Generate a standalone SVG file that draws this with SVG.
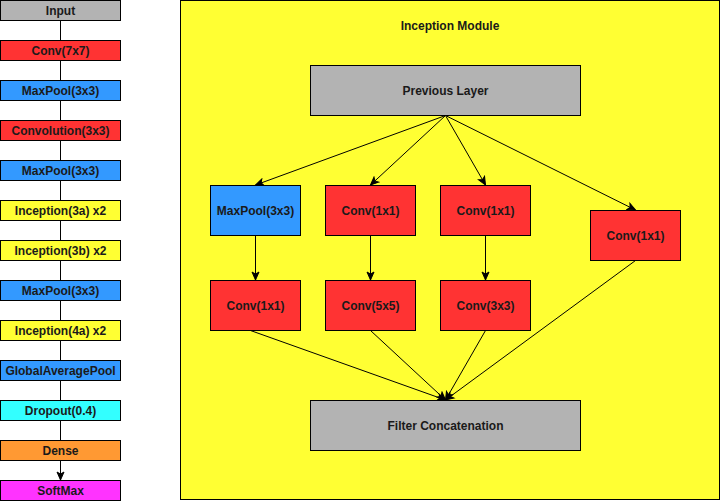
<svg xmlns="http://www.w3.org/2000/svg" width="721" height="501" viewBox="0 0 721 501">
<defs>
<style>
.n{stroke:#000;stroke-width:1}
.t{font-family:"Liberation Sans",Arial,Helvetica,sans-serif;font-size:12px;font-weight:bold;fill:#1a1a1a;text-anchor:middle}
.e{stroke:#000;stroke-width:1;fill:none}
.gy{fill:#B3B3B3}.rd{fill:#FF3333}.bl{fill:#3399FF}.yl{fill:#FFFF33}.cy{fill:#33FFFF}.or{fill:#FF9933}.mg{fill:#FF33FF}
</style>
<marker id="arr" markerUnits="userSpaceOnUse" markerWidth="10" markerHeight="10" viewBox="0 0 10 10" refX="9" refY="5" orient="auto">
<path d="M1,1.5 L9,5 L1,8.5 L3,5 Z" fill="#000" stroke="#000" stroke-width="1"/>
</marker>
</defs>
<g id="container">
<rect x="180.5" y="0.5" width="539" height="499" class="n yl"/>
<text x="450" y="30" class="t">Inception Module</text>
</g>
<g id="connectors">
<line x1="60.5" y1="20" x2="60.5" y2="40" class="e"/>
<line x1="60.5" y1="60" x2="60.5" y2="80" class="e"/>
<line x1="60.5" y1="100" x2="60.5" y2="120" class="e"/>
<line x1="60.5" y1="140" x2="60.5" y2="160" class="e"/>
<line x1="60.5" y1="180" x2="60.5" y2="200" class="e"/>
<line x1="60.5" y1="220" x2="60.5" y2="240" class="e"/>
<line x1="60.5" y1="260" x2="60.5" y2="280" class="e"/>
<line x1="60.5" y1="300" x2="60.5" y2="320" class="e"/>
<line x1="60.5" y1="340" x2="60.5" y2="360" class="e"/>
<line x1="60.5" y1="380" x2="60.5" y2="400" class="e"/>
<line x1="60.5" y1="420" x2="60.5" y2="440" class="e"/>
<line x1="60.5" y1="460" x2="60.5" y2="480" class="e" marker-end="url(#arr)"/>
<line x1="445.5" y1="115.5" x2="255.5" y2="185" class="e" marker-end="url(#arr)"/>
<line x1="445.5" y1="115.5" x2="370.5" y2="185" class="e" marker-end="url(#arr)"/>
<line x1="445.5" y1="115.5" x2="485.5" y2="185" class="e" marker-end="url(#arr)"/>
<line x1="445.5" y1="115.5" x2="635.5" y2="210" class="e" marker-end="url(#arr)"/>
<line x1="255.5" y1="235.5" x2="255.5" y2="280" class="e" marker-end="url(#arr)"/>
<line x1="370.5" y1="235.5" x2="370.5" y2="280" class="e" marker-end="url(#arr)"/>
<line x1="485.5" y1="235.5" x2="485.5" y2="280" class="e" marker-end="url(#arr)"/>
<line x1="250.5" y1="330.5" x2="445.5" y2="400" class="e" marker-end="url(#arr)"/>
<line x1="370.5" y1="330.5" x2="445.5" y2="400" class="e" marker-end="url(#arr)"/>
<line x1="485.5" y1="330.5" x2="445.5" y2="400" class="e" marker-end="url(#arr)"/>
<line x1="635.5" y1="260.5" x2="445.5" y2="400" class="e" marker-end="url(#arr)"/>
</g>
<g id="input"><rect x="0.5" y="0.5" width="120" height="20" class="n gy"/><text x="60.5" y="15" class="t">Input</text></g>
<g id="conv7"><rect x="0.5" y="40.5" width="120" height="20" class="n rd"/><text x="60.5" y="55" class="t">Conv(7x7)</text></g>
<g id="maxpool1"><rect x="0.5" y="80.5" width="120" height="20" class="n bl"/><text x="60.5" y="95" class="t">MaxPool(3x3)</text></g>
<g id="conv3"><rect x="0.5" y="120.5" width="120" height="20" class="n rd"/><text x="60.5" y="135" class="t">Convolution(3x3)</text></g>
<g id="maxpool2"><rect x="0.5" y="160.5" width="120" height="20" class="n bl"/><text x="60.5" y="175" class="t">MaxPool(3x3)</text></g>
<g id="inc3a"><rect x="0.5" y="200.5" width="120" height="20" class="n yl"/><text x="60.5" y="215" class="t">Inception(3a) x2</text></g>
<g id="inc3b"><rect x="0.5" y="240.5" width="120" height="20" class="n yl"/><text x="60.5" y="255" class="t">Inception(3b) x2</text></g>
<g id="maxpool3"><rect x="0.5" y="280.5" width="120" height="20" class="n bl"/><text x="60.5" y="295" class="t">MaxPool(3x3)</text></g>
<g id="inc4a"><rect x="0.5" y="320.5" width="120" height="20" class="n yl"/><text x="60.5" y="335" class="t">Inception(4a) x2</text></g>
<g id="gap"><rect x="0.5" y="360.5" width="120" height="20" class="n bl"/><text x="60.5" y="375" class="t">GlobalAveragePool</text></g>
<g id="dropout"><rect x="0.5" y="400.5" width="120" height="20" class="n cy"/><text x="60.5" y="415" class="t">Dropout(0.4)</text></g>
<g id="dense"><rect x="0.5" y="440.5" width="120" height="20" class="n or"/><text x="60.5" y="455" class="t">Dense</text></g>
<g id="softmax"><rect x="0.5" y="480.5" width="120" height="20" class="n mg"/><text x="60.5" y="495" class="t">SoftMax</text></g>
<g id="prev"><rect x="310.5" y="65.5" width="270" height="50" class="n gy"/><text x="445.5" y="95" class="t">Previous Layer</text></g>
<g id="mp"><rect x="210.5" y="185.5" width="90" height="50" class="n bl"/><text x="255.5" y="215" class="t">MaxPool(3x3)</text></g>
<g id="c1a"><rect x="325.5" y="185.5" width="90" height="50" class="n rd"/><text x="370.5" y="215" class="t">Conv(1x1)</text></g>
<g id="c1b"><rect x="440.5" y="185.5" width="90" height="50" class="n rd"/><text x="485.5" y="215" class="t">Conv(1x1)</text></g>
<g id="c1c"><rect x="590.5" y="210.5" width="90" height="50" class="n rd"/><text x="635.5" y="240" class="t">Conv(1x1)</text></g>
<g id="c1d"><rect x="210.5" y="280.5" width="90" height="50" class="n rd"/><text x="255.5" y="310" class="t">Conv(1x1)</text></g>
<g id="c5"><rect x="325.5" y="280.5" width="90" height="50" class="n rd"/><text x="370.5" y="310" class="t">Conv(5x5)</text></g>
<g id="c3"><rect x="440.5" y="280.5" width="90" height="50" class="n rd"/><text x="485.5" y="310" class="t">Conv(3x3)</text></g>
<g id="concat"><rect x="310.5" y="400.5" width="270" height="50" class="n gy"/><text x="445.5" y="430" class="t">Filter Concatenation</text></g>
</svg>
